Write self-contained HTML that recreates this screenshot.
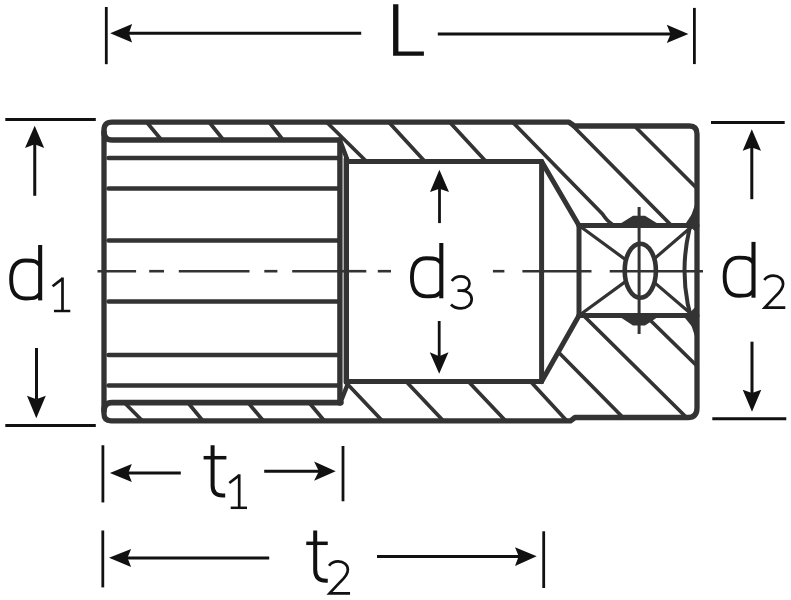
<!DOCTYPE html>
<html><head><meta charset="utf-8"><style>
html,body{margin:0;padding:0;background:#fff;}
body{width:791px;height:600px;overflow:hidden;font-family:"Liberation Sans",sans-serif;}
svg{display:block;}
</style></head><body>
<svg width="791" height="600" viewBox="0 0 791 600">
<rect width="791" height="600" fill="#fff"/>
<path d="M112,122.2 H569 L574.5,126 H689.5 Q697,126 697,134 V408 Q697,417.5 688,417.5 H575 L570.5,420.8 H111 Q104,420.8 104,413.8 V130.2 Q104,122.2 112,122.2 Z" stroke="#333" stroke-width="5.3" fill="none" stroke-linecap="round" stroke-linejoin="round"/>
<path d="M339.7,140 H112 Q104,140 104,132" stroke="#333" stroke-width="5.5" fill="none" stroke-linecap="round" stroke-linejoin="round"/>
<path d="M341,402.6 H112 Q104,402.6 104,410.6" stroke="#333" stroke-width="5.6" fill="none" stroke-linecap="round" stroke-linejoin="round"/>
<line x1="341" y1="401" x2="347" y2="386" stroke="#333" stroke-width="4.5" stroke-linecap="round"/>
<line x1="341" y1="143" x2="347" y2="159" stroke="#333" stroke-width="4.5" stroke-linecap="round"/>
<line x1="108.5" y1="158.0" x2="339.7" y2="158.0" stroke="#333" stroke-width="4.5" stroke-linecap="round"/>
<line x1="108.5" y1="188.5" x2="339.7" y2="188.5" stroke="#333" stroke-width="4.5" stroke-linecap="round"/>
<line x1="108.5" y1="240.5" x2="339.7" y2="240.5" stroke="#333" stroke-width="4.5" stroke-linecap="round"/>
<line x1="108.5" y1="301.5" x2="339.7" y2="301.5" stroke="#333" stroke-width="4.5" stroke-linecap="round"/>
<line x1="108.5" y1="354.9" x2="339.7" y2="354.9" stroke="#333" stroke-width="4.5" stroke-linecap="round"/>
<line x1="108.5" y1="385.4" x2="339.7" y2="385.4" stroke="#333" stroke-width="4.5" stroke-linecap="round"/>
<line x1="339.9" y1="140" x2="339.9" y2="403" stroke="#333" stroke-width="5.4" stroke-linecap="round"/>
<line x1="346.3" y1="159" x2="346.3" y2="382" stroke="#333" stroke-width="5.4" stroke-linecap="round"/>
<line x1="346.5" y1="161.5" x2="541.6" y2="161.5" stroke="#333" stroke-width="5" stroke-linecap="round"/>
<line x1="346.5" y1="381.6" x2="541.6" y2="381.6" stroke="#333" stroke-width="5" stroke-linecap="round"/>
<line x1="541.6" y1="161.5" x2="541.6" y2="381.6" stroke="#333" stroke-width="5" stroke-linecap="round"/>
<line x1="541.6" y1="161.5" x2="579" y2="225.5" stroke="#333" stroke-width="5" stroke-linecap="round"/>
<line x1="541.6" y1="381.6" x2="579" y2="315.5" stroke="#333" stroke-width="5" stroke-linecap="round"/>
<line x1="579" y1="225.5" x2="579" y2="315.5" stroke="#333" stroke-width="5" stroke-linecap="round"/>
<line x1="579" y1="225.5" x2="697" y2="225.5" stroke="#333" stroke-width="5" stroke-linecap="round"/>
<line x1="579" y1="315.5" x2="697" y2="315.5" stroke="#333" stroke-width="5" stroke-linecap="round"/>
<line x1="146.5" y1="122" x2="161.5" y2="140" stroke="#333" stroke-width="3.7" stroke-linecap="round"/>
<line x1="209" y1="122" x2="223.5" y2="140" stroke="#333" stroke-width="3.7" stroke-linecap="round"/>
<line x1="269" y1="122" x2="283" y2="140" stroke="#333" stroke-width="3.7" stroke-linecap="round"/>
<line x1="326.5" y1="122" x2="366.5" y2="161.5" stroke="#333" stroke-width="3.7" stroke-linecap="round"/>
<line x1="388.6" y1="122" x2="424.9" y2="161.5" stroke="#333" stroke-width="3.7" stroke-linecap="round"/>
<line x1="449.5" y1="122" x2="486" y2="161.5" stroke="#333" stroke-width="3.7" stroke-linecap="round"/>
<line x1="124.2" y1="402.5" x2="142.6" y2="421" stroke="#333" stroke-width="3.7" stroke-linecap="round"/>
<line x1="187.8" y1="402.5" x2="203" y2="421" stroke="#333" stroke-width="3.7" stroke-linecap="round"/>
<line x1="248" y1="402.5" x2="263.5" y2="421" stroke="#333" stroke-width="3.7" stroke-linecap="round"/>
<line x1="309" y1="402.5" x2="324.5" y2="421" stroke="#333" stroke-width="3.7" stroke-linecap="round"/>
<line x1="346" y1="382.5" x2="382" y2="420.5" stroke="#333" stroke-width="3.7" stroke-linecap="round"/>
<line x1="406.6" y1="382" x2="443" y2="420.5" stroke="#333" stroke-width="3.7" stroke-linecap="round"/>
<line x1="468.8" y1="382" x2="505.3" y2="420.5" stroke="#333" stroke-width="3.7" stroke-linecap="round"/>
<line x1="531" y1="382" x2="566.5" y2="420.5" stroke="#333" stroke-width="3.7" stroke-linecap="round"/>
<line x1="558.3" y1="352" x2="623" y2="417.5" stroke="#333" stroke-width="3.7" stroke-linecap="round"/>
<line x1="584" y1="316" x2="685" y2="416" stroke="#333" stroke-width="3.7" stroke-linecap="round"/>
<line x1="650" y1="320" x2="697" y2="366" stroke="#333" stroke-width="3.7" stroke-linecap="round"/>
<line x1="573" y1="126" x2="670" y2="224" stroke="#333" stroke-width="3.7" stroke-linecap="round"/>
<line x1="634.5" y1="126" x2="697" y2="188.5" stroke="#333" stroke-width="3.7" stroke-linecap="round"/>
<path d="M512.5,122 L602.5,214 Q607,221 612,224" stroke="#333" stroke-width="3.7" fill="none" stroke-linecap="round" stroke-linejoin="round"/>
<line x1="579" y1="225.5" x2="640.5" y2="270.6" stroke="#333" stroke-width="3.2" stroke-linecap="round"/>
<line x1="693" y1="225.5" x2="640.5" y2="270.6" stroke="#333" stroke-width="3.2" stroke-linecap="round"/>
<line x1="579" y1="315.5" x2="640.5" y2="270.6" stroke="#333" stroke-width="3.2" stroke-linecap="round"/>
<line x1="693" y1="315.5" x2="640.5" y2="270.6" stroke="#333" stroke-width="3.2" stroke-linecap="round"/>
<ellipse cx="640.3" cy="270.7" rx="15.6" ry="27" fill="#fff" stroke="#333" stroke-width="4.6"/>
<line x1="639.1" y1="207" x2="639.1" y2="334" stroke="#333" stroke-width="3" stroke-linecap="butt"/>
<path d="M697,205 Q672,270.5 697,336" stroke="#333" stroke-width="4" fill="none" stroke-linecap="round" stroke-linejoin="round"/>
<polygon points="686,223 698,205 698,234" fill="#333"/>
<polygon points="685,318 698,304 698,334" fill="#333"/>
<path d="M616.5,226 L633,215.8 H645 L661.5,226 Z" fill="#333"/>
<path d="M617,315 L633,325.5 H645 L661,315 Z" fill="#333"/>
<line x1="97.5" y1="271.2" x2="136.1" y2="271.2" stroke="#333" stroke-width="2.6" stroke-linecap="butt"/>
<line x1="149.2" y1="271.2" x2="164" y2="271.2" stroke="#333" stroke-width="2.6" stroke-linecap="butt"/>
<line x1="178.8" y1="271.2" x2="249.5" y2="271.2" stroke="#333" stroke-width="2.6" stroke-linecap="butt"/>
<line x1="264.3" y1="271.2" x2="277.4" y2="271.2" stroke="#333" stroke-width="2.6" stroke-linecap="butt"/>
<line x1="292.2" y1="271.2" x2="338.3" y2="271.2" stroke="#333" stroke-width="2.6" stroke-linecap="butt"/>
<line x1="340" y1="271.2" x2="366.3" y2="271.2" stroke="#333" stroke-width="2.6" stroke-linecap="butt"/>
<line x1="377.8" y1="271.2" x2="391" y2="271.2" stroke="#333" stroke-width="2.6" stroke-linecap="butt"/>
<line x1="492.9" y1="271.2" x2="504.4" y2="271.2" stroke="#333" stroke-width="2.6" stroke-linecap="butt"/>
<line x1="522.4" y1="271.2" x2="591.5" y2="271.2" stroke="#333" stroke-width="2.6" stroke-linecap="butt"/>
<line x1="609.7" y1="271.2" x2="703" y2="271.2" stroke="#333" stroke-width="2.6" stroke-linecap="butt"/>
<line x1="106.3" y1="7" x2="106.3" y2="64.2" stroke="#111" stroke-width="2.8" stroke-linecap="butt"/>
<line x1="694.4" y1="7.9" x2="694.4" y2="64.1" stroke="#111" stroke-width="2.8" stroke-linecap="butt"/>
<line x1="128" y1="33.3" x2="361.2" y2="33.3" stroke="#111" stroke-width="3" stroke-linecap="butt"/>
<line x1="437.8" y1="34" x2="672" y2="34" stroke="#111" stroke-width="3" stroke-linecap="butt"/>
<polygon points="110.2,33.3 132.1,23.9 128.9,33.3 132.1,42.6" fill="#111"/>
<polygon points="688.4,34 666.8,24.7 670.6,34 666.8,43.1" fill="#111"/>
<path d="M393.1,4.2 H398.4 V51.6 H423.9 V55.8 H393.1 Z" fill="#111"/>
<line x1="5.3" y1="119.5" x2="95.8" y2="119.5" stroke="#111" stroke-width="3" stroke-linecap="butt"/>
<line x1="5.3" y1="425.6" x2="95.8" y2="425.6" stroke="#111" stroke-width="3" stroke-linecap="butt"/>
<line x1="34.75" y1="144" x2="34.75" y2="195.8" stroke="#111" stroke-width="3" stroke-linecap="butt"/>
<polygon points="34.7,125.8 25,148 34.7,144.2 44.2,148" fill="#111"/>
<line x1="36.5" y1="348" x2="36.5" y2="399" stroke="#111" stroke-width="3" stroke-linecap="butt"/>
<polygon points="36.3,418.3 27,395.8 36.3,399.2 45.8,395.8" fill="#111"/>
<line x1="711" y1="122.5" x2="784.7" y2="122.5" stroke="#111" stroke-width="3" stroke-linecap="butt"/>
<line x1="712.3" y1="418.8" x2="786.3" y2="418.8" stroke="#111" stroke-width="3" stroke-linecap="butt"/>
<line x1="751.8" y1="147" x2="751.8" y2="199.2" stroke="#111" stroke-width="3" stroke-linecap="butt"/>
<polygon points="751.8,129.2 742.7,150.8 751.8,147.5 761,150.8" fill="#111"/>
<line x1="752" y1="341.7" x2="752" y2="393" stroke="#111" stroke-width="3" stroke-linecap="butt"/>
<polygon points="752,411.7 742.7,389.7 752,393 761.3,389.7" fill="#111"/>
<line x1="439.5" y1="188" x2="439.5" y2="223.1" stroke="#111" stroke-width="2.8" stroke-linecap="butt"/>
<polygon points="439.4,169.75 430,191.9 439.4,188.75 449,191.9" fill="#111"/>
<line x1="439.2" y1="321" x2="439.2" y2="356.5" stroke="#111" stroke-width="2.8" stroke-linecap="butt"/>
<polygon points="439.2,373.75 429.75,352.25 439.2,356.25 448.5,352.25" fill="#111"/>
<line x1="102.9" y1="445.25" x2="102.9" y2="502.45" stroke="#111" stroke-width="2.8" stroke-linecap="butt"/>
<line x1="343" y1="446" x2="343" y2="501.3" stroke="#111" stroke-width="2.8" stroke-linecap="butt"/>
<line x1="128" y1="473.1" x2="180.8" y2="473.1" stroke="#111" stroke-width="3" stroke-linecap="butt"/>
<polygon points="109.9,473 131.8,463.9 128.3,473 131.8,482" fill="#111"/>
<line x1="264.2" y1="471.2" x2="319.5" y2="471.2" stroke="#111" stroke-width="3" stroke-linecap="butt"/>
<polygon points="335.7,471.2 314.1,461.6 318.9,471.2 314.1,480.8" fill="#111"/>
<line x1="102.8" y1="530.5" x2="102.8" y2="587.4" stroke="#111" stroke-width="2.8" stroke-linecap="butt"/>
<line x1="543.7" y1="531.3" x2="543.7" y2="588" stroke="#111" stroke-width="2.8" stroke-linecap="butt"/>
<line x1="127" y1="558.1" x2="269.2" y2="558.1" stroke="#111" stroke-width="3" stroke-linecap="butt"/>
<polygon points="109,557.8 131.1,548.9 127.5,557.8 131.1,567" fill="#111"/>
<line x1="377" y1="556.5" x2="519.5" y2="556.5" stroke="#111" stroke-width="3" stroke-linecap="butt"/>
<polygon points="536.7,556.3 515,547.3 518.7,556.3 515,566" fill="#111"/>
<line x1="40.15" y1="245" x2="40.15" y2="300.4" stroke="#111" stroke-width="4.1" stroke-linecap="butt"/>
<path d="M40.15,265.55 C36.525,261.55 35.51,260.55 25.65,260.55 C15.789999999999997,260.55 11.149999999999999,266.61400000000003 11.149999999999999,279.5 C11.149999999999999,292.38599999999997 15.789999999999997,298.45 25.65,298.45 C35.51,298.45 36.525,297.45 40.15,293.45" stroke="#111" stroke-width="3.9" fill="none" stroke-linecap="butt" stroke-linejoin="round"/>
<line x1="441.3" y1="243" x2="441.3" y2="298.3" stroke="#111" stroke-width="4.1" stroke-linecap="butt"/>
<path d="M441.3,263.25 C437.63125,259.25 436.604,258.25 426.625,258.25 C416.646,258.25 411.95,264.346 411.95,277.3 C411.95,290.254 416.646,296.35 426.625,296.35 C436.604,296.35 437.63125,295.35 441.3,291.35" stroke="#111" stroke-width="3.9" fill="none" stroke-linecap="butt" stroke-linejoin="round"/>
<line x1="753.5" y1="241.9" x2="753.5" y2="297.7" stroke="#111" stroke-width="4.1" stroke-linecap="butt"/>
<path d="M753.5,262.65 C749.89375,258.65 748.884,257.65 739.075,257.65 C729.2660000000001,257.65 724.6500000000001,263.746 724.6500000000001,276.7 C724.6500000000001,289.654 729.2660000000001,295.75 739.075,295.75 C748.884,295.75 749.89375,294.75 753.5,290.75" stroke="#111" stroke-width="3.9" fill="none" stroke-linecap="butt" stroke-linejoin="round"/>
<g transform="translate(0,0)">
<path d="M52.6,286.2 L62.5,278.6" stroke="#111" stroke-width="2.7" fill="none" stroke-linecap="butt" stroke-linejoin="round"/>
<line x1="62.5" y1="277.5" x2="62.5" y2="311.2" stroke="#111" stroke-width="2.7" stroke-linecap="butt"/>
<line x1="54" y1="311.0" x2="70.3" y2="311.0" stroke="#111" stroke-width="2.5" stroke-linecap="butt"/>
</g>
<g transform="translate(176.7,196.8)">
<path d="M52.6,286.2 L62.5,278.6" stroke="#111" stroke-width="2.7" fill="none" stroke-linecap="butt" stroke-linejoin="round"/>
<line x1="62.5" y1="277.5" x2="62.5" y2="311.2" stroke="#111" stroke-width="2.7" stroke-linecap="butt"/>
<line x1="54" y1="311.0" x2="70.3" y2="311.0" stroke="#111" stroke-width="2.5" stroke-linecap="butt"/>
</g>
<path d="M451.8,281 C454,277.8 457.5,276.4 461,276.4 C466,276.4 469.5,279.5 469.5,283.5 C469.5,287.8 466,290.6 461.5,290.6 H457.5 M461.5,290.6 C467.5,290.6 471.7,294 471.7,299.2 C471.7,304.5 467,308.3 460.9,308.3 C456.5,308.3 453,306.8 451,304.5" stroke="#111" stroke-width="2.7" fill="none" stroke-linecap="butt" stroke-linejoin="round"/>
<g transform="translate(0,0)">
<path d="M764.3,280 C766.5,277 769.5,275.7 773.4,275.7 C779,275.7 783.1,279 783.1,284 C783.1,288.5 780,292 775.5,296.2 L764.8,307.6 H785.3" stroke="#111" stroke-width="2.7" fill="none" stroke-linecap="butt" stroke-linejoin="miter"/>
</g>
<g transform="translate(-435.25,285.7)">
<path d="M764.3,280 C766.5,277 769.5,275.7 773.4,275.7 C779,275.7 783.1,279 783.1,284 C783.1,288.5 780,292 775.5,296.2 L764.8,307.6 H785.3" stroke="#111" stroke-width="2.7" fill="none" stroke-linecap="butt" stroke-linejoin="miter"/>
</g>
<path d="M212.6,445.3 V485.6 Q212.6,495.6 222.6,495.6 H225.2" stroke="#111" stroke-width="4.0" fill="none" stroke-linecap="butt" stroke-linejoin="round"/>
<line x1="203.6" y1="457.7" x2="226.4" y2="457.7" stroke="#111" stroke-width="3.5" stroke-linecap="butt"/>
<path d="M315.2,530.6 V569.75 Q315.2,580.75 326.2,580.75 H327.75" stroke="#111" stroke-width="4.0" fill="none" stroke-linecap="butt" stroke-linejoin="round"/>
<line x1="306.25" y1="543.3" x2="327.75" y2="543.3" stroke="#111" stroke-width="3.5" stroke-linecap="butt"/>
</svg>
</body></html>
